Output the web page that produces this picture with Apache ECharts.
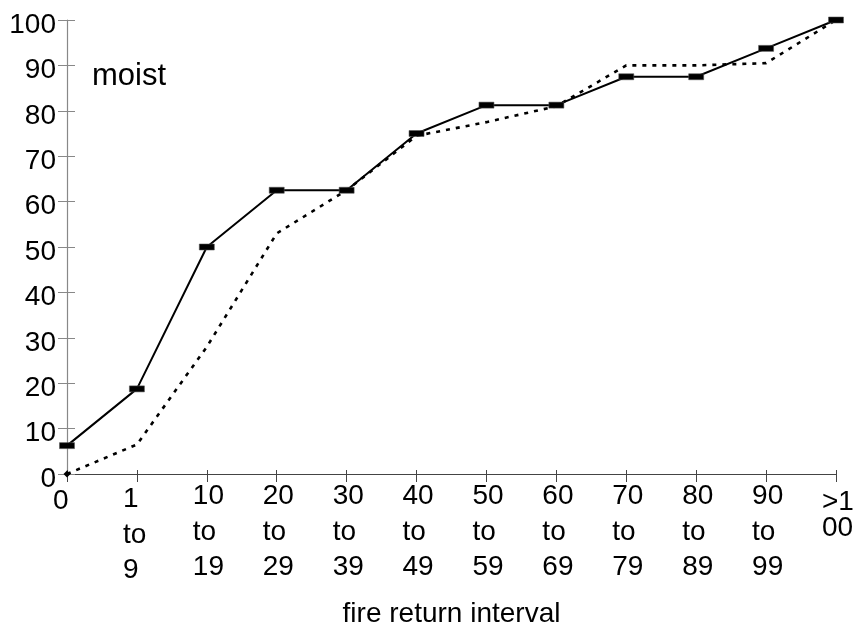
<!DOCTYPE html>
<html><head><meta charset="utf-8">
<script src="https://cdn.jsdelivr.net/npm/echarts@6/dist/echarts.min.js"></script>
<style>html,body{margin:0;padding:0;background:#fff}#c{width:859px;height:629px}</style>
</head><body><div id="c"></div>
<script>
const categories = ["0","1\nto\n9","10\nto\n19","20\nto\n29","30\nto\n39","40\nto\n49","50\nto\n59","60\nto\n69","70\nto\n79","80\nto\n89","90\nto\n99",">1\n00"];
const solidValues = [6.25, 18.75, 50, 62.5, 62.5, 75, 81.25, 81.25, 87.5, 87.5, 93.75, 100];
const dottedValues = [0, 6.5, 28, 53, 62.5, 74.5, 77.5, 81, 90, 90, 90.5, 100];
const yTicks = [0,10,20,30,40,50,60,70,80,90,100];
const panelLabel = "moist";
const xTitle = "fire return interval";

const FONT = "Liberation Sans, Arial, sans-serif";
// per-label vertical nudges (style only)
const labelShift = {"0":5, "1\nto\n9":3, ">1\n00":10};
const tightLabels = {">1\n00":true};

function xLabelFormatter(v){
  const lines = String(v).split('\n');
  const st = tightLabels[v] ? 't' : 'a';
  let out = '';
  const sh = labelShift[v] || 0;
  if (sh) out += '{s' + sh + '| }\n';
  out += lines.map(l => '{' + st + '|' + l + '}').join('\n');
  return out;
}
const rich = {
  a:{fontFamily:FONT,fontSize:28,color:'#000',lineHeight:35.5,width:28,align:'left'},
  t:{fontFamily:FONT,fontSize:28,color:'#000',lineHeight:26.5,width:28,align:'left'}
};
[3,5,10].forEach(n=>{ rich['s'+n] = {fontSize:2,lineHeight:n,width:28}; });

const yRich = {
  sp:{fontSize:2,lineHeight:10},
  y:{fontFamily:FONT,fontSize:28,color:'#000',lineHeight:30}
};

const chart = echarts.init(document.getElementById('c'), null, {renderer:'canvas'});
chart.setOption({
  animation:false,
  backgroundColor:'#fff',
  grid:{left:67,right:23,top:20,bottom:155,containLabel:false,outerBoundsMode:'none'},
  title:{text:panelLabel,left:87,top:56,textStyle:{fontFamily:FONT,fontSize:31,fontWeight:'normal',color:'#000'}},
  xAxis:[{
    type:'category',data:categories,boundaryGap:false,
    name:xTitle,nameLocation:'middle',nameGap:126,
    nameTextStyle:{fontFamily:FONT,fontSize:28,color:'#000'},
    axisLine:{lineStyle:{color:'#444',width:1.2}},
    axisTick:{show:true,length:8,lineStyle:{color:'#444',width:1}},
    axisLabel:{interval:0,margin:5,formatter:xLabelFormatter,rich:rich,align:'center'},
    splitLine:{show:false}
  },{
    type:'category',data:categories,boundaryGap:false,position:'bottom',
    axisLine:{show:false},
    axisTick:{show:true,inside:true,length:4,lineStyle:{color:'#444',width:1}},
    axisLabel:{show:false},splitLine:{show:false}
  }],
  yAxis:[{
    type:'value',min:0,max:100,interval:10,
    axisLine:{show:true,lineStyle:{color:'#888',width:1.2}},
    axisTick:{show:true,length:9,lineStyle:{color:'#888',width:1}},
    axisLabel:{margin:11,rich:yRich,
      formatter:function(v){return yTicks.indexOf(v)>=0?('{sp| }\n{y|'+v+'}'):'';}},
    splitLine:{show:false}
  },{
    type:'value',min:0,max:100,interval:10,position:'left',
    axisLine:{show:false},
    axisTick:{show:true,inside:true,length:8,lineStyle:{color:'#888',width:1}},
    axisLabel:{show:false},splitLine:{show:false}
  }],
  series:[{
    type:'line',xAxisIndex:0,yAxisIndex:0,
    data:dottedValues.map((v,i)=> i===0 ? {value:v,symbol:'diamond',symbolSize:7} : {value:v,symbol:'none'}),
    showSymbol:true,
    itemStyle:{color:'#000'},
    lineStyle:{color:'#000',width:2.6,type:[4,6]},z:2
  },{
    type:'line',data:solidValues,xAxisIndex:0,yAxisIndex:0,
    symbol:'rect',symbolSize:[15,6],
    itemStyle:{color:'#000',borderColor:'#555',borderWidth:0.5},
    lineStyle:{color:'#000',width:2},z:3
  }]
});
</script></body></html>
